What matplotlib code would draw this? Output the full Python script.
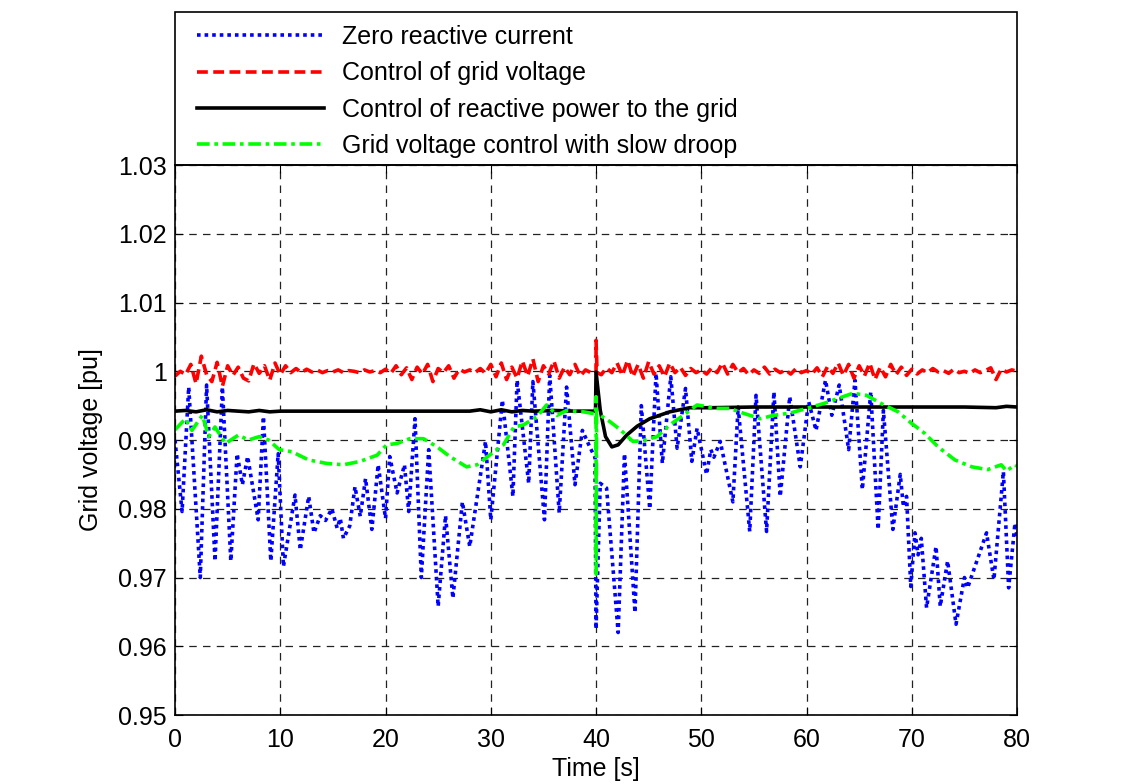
import numpy as np
import matplotlib
matplotlib.use('Agg')
import matplotlib.pyplot as plt
from matplotlib.patches import Rectangle
from matplotlib.ticker import FuncFormatter

plt.rcParams['font.family'] = ['Liberation Sans', 'DejaVu Sans']

# Zero reactive current (blue) - turning points
blue_t = [0.0, 0.67, 1.3, 2.4, 3.0, 3.8, 4.5, 5.3, 5.9, 6.4, 6.9, 7.9, 8.4, 9.1, 9.8,
          10.3, 11.4, 11.9, 12.7, 13.2, 13.8, 14.3, 14.9, 15.4, 15.7, 16.0, 16.6, 17.1,
          17.6, 18.1, 18.7, 19.3, 20.0, 20.4, 21.1, 21.8, 22.2, 22.8, 23.4, 24.1, 25.0,
          25.7, 26.4, 27.3, 28.0, 29.5, 30.0, 31.1, 32.1, 32.5, 33.6, 34.0, 35.1, 35.6,
          36.5, 37.2, 38.0, 38.7, 39.4, 39.9, 40.0, 40.4, 41.0, 42.1, 42.7, 43.7, 44.3,
          45.1, 45.7, 46.3, 47.1, 47.7, 48.5, 49.1, 49.6, 50.5, 50.9, 51.2, 51.8, 53.0,
          53.5, 54.6, 55.2, 56.2, 56.9, 57.5, 58.4, 59.4, 60.2, 60.9, 61.8, 62.4, 63.1,
          64.0, 64.6, 65.3, 66.1, 66.8, 67.3, 68.2, 68.9, 69.2, 69.5, 69.9, 70.3, 70.6,
          70.9, 71.4, 72.3, 72.7, 73.4, 74.2, 75.0, 75.3, 77.1, 77.8, 78.7, 79.2, 79.8, 80.0]
blue_v = [0.9900, 0.9796, 0.9977, 0.9700, 0.9980, 0.9724, 0.9977, 0.9724, 0.9880, 0.9835,
          0.9876, 0.9784, 0.9934, 0.9724, 0.9880, 0.9716, 0.9820, 0.9740, 0.9818, 0.9765,
          0.9790, 0.9783, 0.9800, 0.9772, 0.9786, 0.9757, 0.9775, 0.9832, 0.9789, 0.9844,
          0.9770, 0.9864, 0.9786, 0.9876, 0.9823, 0.9864, 0.9796, 0.9931, 0.9700, 0.9886,
          0.9658, 0.9790, 0.9670, 0.9810, 0.9745, 0.9898, 0.9784, 0.9958, 0.9818, 0.9987,
          0.9837, 0.9985, 0.9784, 0.9994, 0.9794, 0.9977, 0.9835, 0.9914, 0.9890, 0.9875,
          0.9625, 0.9837, 0.9830, 0.9620, 0.9880, 0.9649, 0.9950, 0.9800, 0.9997, 0.9866,
          0.9992, 0.9888, 0.9975, 0.9869, 0.9917, 0.9850, 0.9886, 0.9875, 0.9898, 0.9810,
          0.9948, 0.9767, 0.9965, 0.9767, 0.9970, 0.9818, 0.9963, 0.9861, 0.9956, 0.9914,
          0.9987, 0.9936, 0.9980, 0.9886, 0.9987, 0.9828, 0.9970, 0.9770, 0.9943, 0.9770,
          0.9850, 0.9803, 0.9818, 0.9687, 0.9765, 0.9733, 0.9757, 0.9656, 0.9745, 0.9658,
          0.9724, 0.9632, 0.9700, 0.9685, 0.9765, 0.9697, 0.9854, 0.9685, 0.9779, 0.9760]

# Control of grid voltage (red), sampled every 0.5 s, plus the spike at 40 s
red_t = list(np.arange(0, 80.01, 0.5))
red_v = [0.9993, 1.0000, 0.9995, 1.0010, 0.9982, 1.0022, 0.9995, 0.9985, 1.0013, 0.9978,
         1.0008, 0.9994, 1.0006, 0.9990, 0.9986, 1.0011, 0.9997, 1.0008, 0.9987, 1.0012,
         0.9995, 1.0008, 0.9998, 1.0004, 0.9998, 1.0003,
         0.9999, 1.0002, 0.9998, 1.0001, 0.9999, 1.0002, 0.9998, 1.0001, 1.0000, 0.9998,
         1.0002, 0.9999, 1.0001, 0.9998,
         1.0003, 0.9997, 1.0008, 0.9995, 1.0005, 0.9988, 1.0006, 0.9996, 1.0010, 0.9985,
         1.0004, 0.9998, 1.0008, 0.9990, 1.0003, 0.9999,
         1.0002, 0.9998, 1.0004, 0.9997, 1.0010, 0.9992, 1.0012, 0.9988, 1.0006, 0.9990,
         1.0015, 0.9993, 1.0018, 0.9985, 1.0008, 0.9996, 1.0015, 0.9990, 1.0006, 0.9995,
         1.0010, 0.9993, 1.0002, 0.9998,
         0.9997, 0.9995, 1.0005, 0.9998, 1.0012, 0.9994, 1.0016, 0.9992, 1.0010, 0.9990,
         1.0014, 0.9996, 1.0008, 0.9992, 1.0012, 0.9998, 1.0006, 0.9994, 1.0004, 0.9998,
         1.0002, 0.9996, 1.0005, 0.9998, 1.0012, 0.9996, 1.0010, 0.9998, 1.0004, 0.9995,
         1.0002, 0.9997, 1.0006, 0.9996, 1.0003, 0.9998, 1.0002, 0.9996, 1.0004, 0.9998,
         1.0001, 0.9996, 1.0005, 0.9992, 1.0007, 0.9997, 1.0012, 0.9994, 1.0010, 0.9990,
         1.0008, 0.9993, 1.0012, 0.9988, 1.0006, 0.9992, 1.0010, 0.9995, 1.0006, 0.9994,
         1.0003, 0.9996, 1.0002, 0.9998, 1.0004, 0.9999, 1.0001, 0.9997, 1.0003, 0.9998,
         1.0000, 0.9997, 1.0002, 0.9998, 1.0001, 1.0005, 0.9988, 1.0003, 0.9999, 1.0002,
         1.0000]
red_spike_t = [39.9, 40.0, 40.1]
red_spike_v = [0.9998, 1.0045, 0.9998]

# Control of reactive power to the grid (black)
black_t = [0, 1, 2, 3, 4, 5, 6, 7, 8, 9, 10, 20, 28, 29, 30, 31, 32, 33, 34, 36, 38,
           39.95, 40.0, 40.4, 40.9, 41.5, 42.1, 42.9, 43.9, 45.1, 47.0, 48.9, 51, 55,
           60, 65, 70, 75, 78, 79, 80]
black_v = [0.9942, 0.9943, 0.9941, 0.9944, 0.9941, 0.9943, 0.9942, 0.9941, 0.9943, 0.9941,
           0.9942, 0.9942, 0.9942, 0.9944, 0.9941, 0.9944, 0.9941, 0.9943, 0.9942, 0.9943,
           0.9942, 0.9942, 0.9999, 0.9943, 0.9905, 0.9890, 0.9893, 0.9907, 0.9920, 0.9931,
           0.9941, 0.9947, 0.9947, 0.9948, 0.9948, 0.9948, 0.9948, 0.9948, 0.9947, 0.9949,
           0.9948]

# Grid voltage control with slow droop (green)
green_t = [0.0, 1.0, 1.6, 2.6, 3.2, 3.8, 4.8, 6.0, 7.0, 8.0, 8.9, 9.9, 11.1, 12.7, 14.4,
           16.0, 17.6, 19.2, 20.1, 21.1, 22.3, 23.6, 24.9, 26.1, 27.7, 28.7, 29.3, 30.3,
           31.2, 32.2, 33.1, 34.4, 35.3, 36.3, 37.2, 38.8, 39.95, 40.0, 40.01, 40.05, 40.4,
           41.3, 42.3, 43.5, 44.5, 45.8, 47.0, 48.3, 49.6, 51.5, 52.7, 54.0, 55.6, 56.9,
           58.4, 60.0, 61.6, 62.9, 64.4, 65.7, 67.1, 68.7, 70.0, 71.2, 72.5, 74.1, 75.7,
           77.2, 78.5, 79.0, 79.8, 80.0]
green_v = [0.9915, 0.9931, 0.9914, 0.9936, 0.9905, 0.9919, 0.9895, 0.9907, 0.9900, 0.9905,
           0.9900, 0.9886, 0.9883, 0.9871, 0.9866, 0.9864, 0.9869, 0.9878, 0.9893, 0.9895,
           0.9902, 0.9902, 0.9890, 0.9876, 0.9861, 0.9864, 0.9871, 0.9883, 0.9893, 0.9919,
           0.9922, 0.9934, 0.9951, 0.9936, 0.9943, 0.9941, 0.9938, 0.9963, 0.9705, 0.9940,
           0.9936, 0.9927, 0.9915, 0.9898, 0.9899, 0.9905, 0.9922, 0.9936, 0.9951, 0.9946,
           0.9946, 0.9939, 0.9931, 0.9936, 0.9939, 0.9946, 0.9953, 0.9960, 0.9968, 0.9965,
           0.9953, 0.9941, 0.9924, 0.9910, 0.9890, 0.9871, 0.9861, 0.9857, 0.9864, 0.9855,
           0.9864, 0.9862]

labels = ['Zero reactive current', 'Control of grid voltage',
          'Control of reactive power to the grid', 'Grid voltage control with slow droop']

# merge red spike into red series
red_all = sorted(zip(red_t + red_spike_t, red_v + red_spike_v))
red_t2 = [p[0] for p in red_all]
red_v2 = [p[1] for p in red_all]

fig = plt.figure(figsize=(11.35, 7.84), dpi=100)
ax = fig.add_axes([0.1542, 0.0880, 0.7419, 0.7015])

ax.plot(blue_t, blue_v, color='#0000ff', lw=2.6, linestyle=(0, (1, 1.1)), label=labels[0])
ax.plot(red_t2, red_v2, color='#ff0000', lw=2.6, linestyle=(0, (3, 1.5)), label=labels[1])
ax.plot(black_t, black_v, color='black', lw=2.6, label=labels[2])
ax.plot(green_t, green_v, color='#00ff00', lw=2.6, linestyle=(0, (3.5, 1.3, 1, 1.3)), label=labels[3])

ax.set_xlim(0, 80)
ax.set_ylim(0.95, 1.03)
ax.set_xticks(np.arange(0, 81, 10))
ax.set_yticks(np.arange(0.95, 1.0301, 0.01))
ax.yaxis.set_major_formatter(FuncFormatter(lambda v, p: '%g' % round(v, 2)))
ax.grid(True, color='#222222', linestyle=(0, (6, 5)), lw=0.9)
ax.tick_params(direction='in', top=True, right=True, length=6, labelsize=18, pad=6)
ax.tick_params(axis='x', pad=9)
for s in ax.spines.values():
    s.set_linewidth(1.2)

ax.set_xlabel('Time [s]', fontsize=18, labelpad=4)
ax.set_ylabel('Grid voltage [pu]', fontsize=18, labelpad=11)

# legend box sitting on top of the axes, same width
box = Rectangle((0, 1), 1, 0.278, transform=ax.transAxes, clip_on=False,
                facecolor='white', edgecolor='black', lw=1.2)
ax.add_patch(box)
leg = ax.legend(loc='upper left', bbox_to_anchor=(0.026, 1.2545), borderaxespad=0,
                borderpad=0, frameon=False, fontsize=18, handlelength=5.1,
                handletextpad=0.72, labelspacing=0.49)

fig.savefig('out.png', dpi=100)
